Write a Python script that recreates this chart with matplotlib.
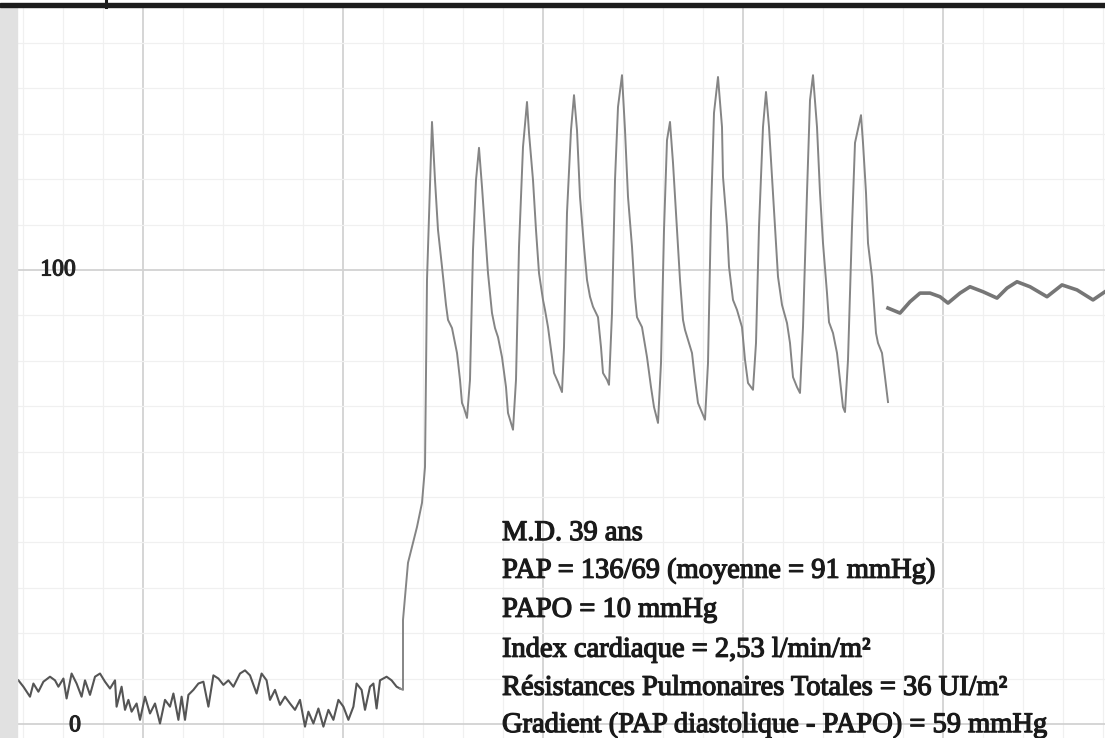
#Pulmonary artery pressure tracing (PAP then wedge / PAPO)
import numpy as np
import matplotlib.pyplot as plt
from matplotlib.ticker import MultipleLocator
from matplotlib.patches import Rectangle
from matplotlib.lines import Line2D
import matplotlib.patheffects as pe

#Baseline before catheter reaches the pulmonary artery (time in s, pressure in mmHg)
t_base = [0.377, 0.402, 0.435, 0.452, 0.477, 0.502, 0.535, 0.560, 0.577, 0.602,
          0.618, 0.643, 0.668, 0.693, 0.710, 0.735, 0.760, 0.785, 0.810, 0.835,
          0.860, 0.868, 0.893, 0.910, 0.927, 0.943, 0.968, 0.985, 1.010, 1.035,
          1.060, 1.085, 1.110, 1.135, 1.152, 1.177, 1.193, 1.210, 1.227, 1.252,
          1.277, 1.302, 1.327, 1.352, 1.377, 1.402, 1.427, 1.452, 1.485, 1.510,
          1.535, 1.568, 1.593, 1.618, 1.635, 1.660, 1.685, 1.710, 1.735, 1.760,
          1.785, 1.810, 1.827, 1.852, 1.877, 1.902, 1.927, 1.952, 1.977, 2.002,
          2.027, 2.052, 2.068, 2.093, 2.110, 2.135, 2.152, 2.168, 2.185, 2.218,
          2.243, 2.268, 2.285]
p_base = [9.6, 8.2, 6.0, 8.9, 7.1, 9.3, 10.4, 9.6, 8.2, 10.0,
          5.6, 11.1, 8.9, 6.0, 9.6, 6.4, 10.4, 11.1, 9.3, 7.8,
          9.6, 3.8, 8.2, 3.1, 5.3, 2.7, 4.5, 0.9, 6.0, 2.3,
          4.5, 0.1, 5.3, 3.8, 6.7, 0.9, 6.0, 0.9, 6.4, 7.5,
          8.9, 9.3, 3.8, 10.7, 10.0, 8.6, 9.6, 8.2, 11.1, 11.8,
          10.7, 6.7, 11.1, 9.6, 5.3, 7.5, 4.2, 6.0, 4.5, 3.1,
          5.3, -0.6, 2.7, 0.1, 3.4, -0.6, 3.1, 0.9, 5.3, 3.8,
          0.9, 3.8, 8.9, 7.5, 3.1, 8.2, 8.9, 3.4, 9.6, 10.4,
          9.6, 8.2, 7.8]

#Pulmonary artery pressure: upstroke then 10 beats
t_pap = [2.285, 2.300, 2.300, 2.325, 2.370, 2.395, 2.410, 2.420, 2.445,
         2.460, 2.475, 2.495, 2.515, 2.525, 2.545, 2.570, 2.585, 2.595, 2.605, 2.620,
         2.635, 2.650, 2.665, 2.680,
         2.695, 2.710, 2.725, 2.745, 2.760, 2.775, 2.795, 2.815, 2.825, 2.850,
         2.865, 2.880, 2.900, 2.920,
         2.930, 2.950, 2.965, 2.980, 3.000, 3.010, 3.025, 3.045, 3.055, 3.075, 3.095,
         3.105, 3.120, 3.140, 3.155,
         3.170, 3.185, 3.205, 3.220, 3.235, 3.250, 3.275, 3.290, 3.300, 3.320, 3.330,
         3.345, 3.360, 3.375, 3.395,
         3.410, 3.425, 3.445, 3.460, 3.470, 3.495, 3.520, 3.540, 3.555, 3.575,
         3.590, 3.605, 3.620, 3.635,
         3.650, 3.670, 3.685, 3.700, 3.710, 3.725, 3.745, 3.760, 3.775, 3.810,
         3.825, 3.840, 3.855, 3.875,
         3.895, 3.900, 3.920, 3.930, 3.950, 3.970, 3.995, 4.010, 4.025, 4.050,
         4.065, 4.080, 4.100, 4.115,
         4.130, 4.145, 4.160, 4.175, 4.195, 4.220, 4.235, 4.250, 4.270, 4.285,
         4.300, 4.320, 4.335, 4.350,
         4.370, 4.385, 4.400, 4.420, 4.430, 4.450, 4.470, 4.485, 4.500, 4.510,
         4.525, 4.545, 4.560, 4.590,
         4.600, 4.615, 4.625, 4.645, 4.665, 4.675, 4.695, 4.710, 4.725]
p_pap = [7.8, 7.5, 22.9, 35.5, 43.4, 48.7, 56.6, 97.8, 132.6,
         119.8, 108.8, 100.7, 92.3, 89.0, 87.2, 81.7, 75.8, 70.7, 69.6, 67.4,
         75.8, 104.4, 119.8, 126.9,
         118.3, 108.8, 99.3, 90.5, 87.2, 85.2, 80.8, 74.2, 68.5, 64.8,
         75.8, 105.1, 127.1, 137.0,
         130.2, 119.8, 108.8, 99.3, 93.4, 91.2, 87.4, 80.8, 77.3, 75.3, 73.1,
         83.0, 112.6, 130.8, 138.5,
         130.8, 116.1, 105.1, 97.8, 94.1, 91.9, 89.6, 83.0, 77.3, 75.8, 74.7,
         90.5, 119.8, 135.9, 142.9,
         130.8, 116.1, 105.1, 94.1, 89.6, 87.4, 80.8, 74.2, 69.8, 66.3,
         79.5, 108.8, 128.6, 132.6,
         123.6, 108.8, 97.8, 89.0, 86.8, 84.6, 81.7, 75.8, 70.7, 67.0,
         79.5, 112.6, 134.6, 142.5,
         131.5, 120.5, 109.5, 100.7, 93.4, 91.2, 87.4, 80.2, 75.1, 73.6,
         83.9, 109.5, 131.5, 139.2,
         131.5, 120.5, 109.5, 98.5, 92.3, 88.3, 83.9, 76.4, 74.2, 72.9,
         87.4, 117.0, 137.4, 142.9,
         131.5, 117.0, 105.9, 94.9, 88.5, 86.1, 81.7, 75.8, 69.8, 68.7,
         80.2, 109.5, 128.0, 134.1,
         128.0, 117.0, 105.9, 98.5, 86.1, 83.9, 81.7, 76.4, 70.9]

#Wedge pressure (balloon inflated)
t_papo = [4.725, 4.785, 4.835, 4.885, 4.935, 4.985, 5.025, 5.085, 5.135, 5.200,
          5.270, 5.320, 5.370, 5.435, 5.520, 5.595, 5.670, 5.750, 5.810]
p_papo = [91.6, 90.5, 93.0, 94.9, 94.9, 94.1, 92.7, 94.9, 96.3, 95.2,
          93.8, 96.0, 97.4, 96.3, 94.1, 96.7, 95.6, 93.4, 95.2]

lines = ["M.D. 39 ans",
         "PAP = 136/69 (moyenne = 91 mmHg)",
         "PAPO = 10 mmHg",
         "Index cardiaque = 2,53 l/min/m\u00b2",
         "R\u00e9sistances Pulmonaires Totales = 36 UI/m\u00b2",
         "Gradient (PAP diastolique - PAPO) = 59 mmHg"]

W, H = 1105, 738
fig = plt.figure(figsize=(W / 100, H / 100), dpi=100)
fig.patch.set_facecolor('white')
ax = fig.add_axes([17 / W, 0, 1 - 17 / W, 1 - 8 / H])
ax.set_facecolor('white')

#scan borders
fig.patches.append(Rectangle((0, 0), 17 / W, 1 - 7 / H, transform=fig.transFigure,
                             color='#e1e1e1', zorder=0))
fig.patches.append(Rectangle((0, 1 - 7 / H), 1, 3.5 / H, transform=fig.transFigure,
                             color='#1c1c1c', zorder=5))
fig.add_artist(Line2D([106 / W, 106 / W], [1 - 7 / H, 1.0], transform=fig.transFigure,
                      color='#1c1c1c', lw=2.2))

ax.set_xlim(0.37, 5.81)
ax.set_ylim(-3.1, 157.7)
ax.xaxis.set_major_locator(MultipleLocator(1.0))
ax.xaxis.set_minor_locator(MultipleLocator(0.2))
ax.yaxis.set_major_locator(MultipleLocator(100))
ax.yaxis.set_minor_locator(MultipleLocator(10))
ax.grid(which='minor', color='#f0f0f0', lw=0.9)
ax.grid(which='major', color='#d2d2d2', lw=1.3)
ax.set_axisbelow(True)
ax.tick_params(which='both', length=0, labelleft=False, labelbottom=False)
for s in ax.spines.values():
    s.set_visible(False)

ax.plot(t_base, p_base, color='#555555', lw=1.5, solid_joinstyle='round')
ax.plot(t_pap, p_pap, color='#858585', lw=1.4, solid_joinstyle='round')
ax.plot(t_papo, p_papo, color='#767676', lw=2.6, solid_joinstyle='round')

serif = ['Liberation Serif', 'DejaVu Serif']
thick = [pe.withStroke(linewidth=0.9, foreground='#222222')]
ax.text(0.575, 100, "100", family=serif, fontsize=17, color='#222222',
        ha='center', va='center', path_effects=thick)
ax.text(0.66, -0.4, "0", family=serif, fontsize=17, color='#222222',
        ha='center', va='center', path_effects=thick)

base_p = [40.5, 32.2, 23.6, 14.8, 6.4, -1.8]
for txt, bp in zip(lines, base_p):
    ax.text(2.795, bp, txt, family=serif, fontsize=20.5, color='#1a1a1a',
            ha='left', va='baseline',
            path_effects=[pe.withStroke(linewidth=0.9, foreground='#1a1a1a')])

fig.savefig('out.png', dpi=100)
